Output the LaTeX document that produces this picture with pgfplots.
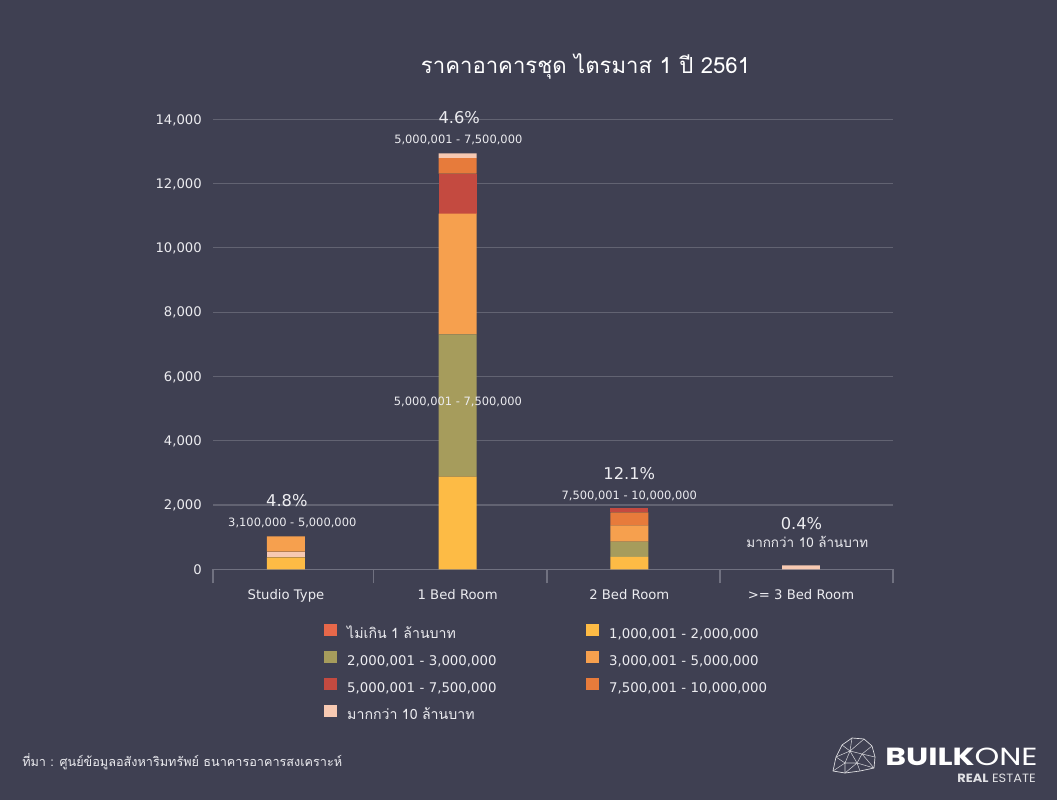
\documentclass[border=0pt]{standalone}
\usepackage{pgfplots}
\pgfplotsset{compat=1.18}
\usepackage{fontspec}
\setmainfont{DejaVu Sans}
\newfontfamily\thaifont[Script=Thai]{Loma}
\newfontfamily\logofont{Poppins}

\definecolor{bg}{RGB}{63,64,82}
\definecolor{gridc}{RGB}{98,99,114}
\definecolor{axisc}{RGB}{112,113,128}
\definecolor{txt}{RGB}{236,236,240}
\definecolor{cA}{RGB}{231,104,74}   % up to 1 MB
\definecolor{cB}{RGB}{253,187,69}   % 1,000,001 - 2,000,000
\definecolor{cC}{RGB}{166,156,92}   % 2,000,001 - 3,000,000
\definecolor{cD}{RGB}{246,160,78}   % 3,000,001 - 5,000,000
\definecolor{cE}{RGB}{196,74,64}    % 5,000,001 - 7,500,000
\definecolor{cF}{RGB}{231,123,59}   % 7,500,001 - 10,000,000
\definecolor{cG}{RGB}{247,201,178}  % over 10 MB

\begin{document}
\begin{tikzpicture}[
  lab/.style={anchor=base, text=txt, inner sep=0pt, font=\fontsize{8.6}{10}\selectfont},
  pct/.style={anchor=base, text=txt, inner sep=0pt, font=\fontsize{12.2}{14}\selectfont},
]
\fill[bg] (0,0) rectangle (792.75pt,600pt);

\begin{axis}[
  at={(159.75pt,173.025pt)}, anchor=south west,
  scale only axis, width=510pt, height=337.5pt,
  xmin=-0.425, xmax=3.536, ymin=0, ymax=14000,
  ybar stacked, bar width=0.221,
  clip=false,
  axis x line*=bottom, axis y line*=left,
  y axis line style={draw=none},
  x axis line style={draw=axisc, line width=0.9pt},
  ymajorgrids, grid style={draw=gridc, line width=0.9pt},
  ytick={0,2000,...,14000},
  scaled y ticks=false,
  /pgf/number format/1000 sep={,},
  /pgf/number format/assume math mode=true,
  xtick={0,1,2,3},
  xticklabels={Studio Type,1 Bed Room,2 Bed Room,>= 3 Bed Room},
  minor xtick={-0.425,0.511,1.52,2.528,3.536},
  major tick length=0pt, minor tick length=10.5pt, tick align=outside,
  minor tick style={draw=axisc, line width=0.9pt},
  ticklabel style={font=\fontsize{9.9}{12}\selectfont, text=txt},
  yticklabel style={anchor=base east, inner sep=0pt, xshift=-8.25pt, yshift=-3.6pt},
  xticklabel style={anchor=base, inner sep=0pt, yshift=-22.3pt},
  sq/.style={legend image code/.code={\fill[#1] (0pt,-0.6pt) rectangle (8.5pt,7.9pt);}},
  legend columns=2,
  legend cell align=left,
  legend style={at={(0.1637,-0.1209)}, anchor=north west,
    draw=none, fill=none, inner sep=0pt, outer sep=0pt,
    font=\fontsize{10}{12}\selectfont, text=txt,
    row sep=6.2pt,
    nodes={inner sep=0pt, text width=179.25pt, text height=9pt, text depth=3pt},
    /tikz/every odd column/.append style={column sep=8.3pt}},
]
% segments listed from the bottom of each column upwards
\addplot[forget plot, fill=cB, draw=none] coordinates {(0,373) (1,2881) (2,383) (3,0)};
\addplot[forget plot, fill=cG, draw=none] coordinates {(0,174) (1,0) (2,0) (3,0)};
\addplot[forget plot, fill=cC, draw=none] coordinates {(0,0) (1,4430) (2,479) (3,0)};
\addplot[forget plot, fill=cD, draw=none] coordinates {(0,479) (1,3752) (2,507) (3,0)};
\addplot[forget plot, fill=cE, draw=none] coordinates {(0,0) (1,1244) (2,0) (3,0)};
\addplot[forget plot, fill=cF, draw=none] coordinates {(0,0) (1,488) (2,404) (3,0)};
\addplot[forget plot, fill=cE, draw=none] coordinates {(0,0) (1,0) (2,146) (3,0)};
\addplot[forget plot, fill=cG, draw=none] coordinates {(0,0) (1,146) (2,0) (3,125)};

\addlegendimage{sq=cA}\addlegendentry{\thaifont\fontsize{10.6}{12}\selectfont ไม่เกิน 1 ล้านบาท}
\addlegendimage{sq=cB}\addlegendentry{1,000,001 - 2,000,000}
\addlegendimage{sq=cC}\addlegendentry{2,000,001 - 3,000,000}
\addlegendimage{sq=cD}\addlegendentry{3,000,001 - 5,000,000}
\addlegendimage{sq=cE}\addlegendentry{5,000,001 - 7,500,000}
\addlegendimage{sq=cF}\addlegendentry{7,500,001 - 10,000,000}
\addlegendimage{sq=cG}\addlegendentry{\thaifont\fontsize{10.6}{12}\selectfont มากกว่า 10 ล้านบาท}

% anchor points for the annotations (set after the axis so they sit on top)
\coordinate (p0) at (axis cs:0.005,1969);
\coordinate (r0) at (axis cs:0.037,1347);
\coordinate (p1) at (axis cs:1.009,13875);
\coordinate (r1) at (axis cs:1.004,13253);
\coordinate (m1) at (axis cs:1.002,5111);
\coordinate (p2) at (axis cs:2.0,2800);
\coordinate (r2) at (axis cs:2.0,2178);
\coordinate (p3) at (axis cs:3.003,1244);
\coordinate (r3) at (axis cs:3.037,672);
\end{axis}

\node[pct] at (p0) {4.8\%};
\node[lab] at (r0) {3,100,000 - 5,000,000};
\node[pct] at (p1) {4.6\%};
\node[lab] at (r1) {5,000,001 - 7,500,000};
\node[lab] at (m1) {5,000,001 - 7,500,000};
\node[pct] at (p2) {12.1\%};
\node[lab] at (r2) {7,500,001 - 10,000,000};
\node[pct] at (p3) {0.4\%};
\node[lab, font=\thaifont\fontsize{10.1}{12}\selectfont] at (r3) {มากกว่า 10 ล้านบาท};

\begin{scope}[x=0.75pt, y=-0.75pt, yshift=600pt]
  % title
  \node[anchor=base, text=white, inner sep=0pt, font=\thaifont\fontsize{16.6}{20}\selectfont]
    at (585.5,73.3) {ราคาอาคารชุด ไตรมาส 1 ปี 2561};
  % source
  \node[anchor=base west, text=txt, inner sep=0pt, font=\thaifont\fontsize{9.5}{12}\selectfont]
    at (22,767) {ที่มา : ศูนย์ข้อมูลอสังหาริมทรัพย์ ธนาคารอาคารสงเคราะห์};
  % logo
  \draw[white!85!bg, line width=0.5pt, line join=round]
    (833,771) -- (836,757) -- (842,745) -- (852,738) -- (864,739) -- (872,746)
    -- (875,757) -- (874,768) -- (860,771) -- (845,773) -- cycle;
  \draw[white!75!bg, line width=0.4pt]
    (842,745) -- (850,751) -- (852,738) (850,751) -- (864,739)
    (850,751) -- (862,754) -- (872,746) (862,754) -- (875,757)
    (836,757) -- (850,751) -- (845,763) -- (836,757)
    (850,751) -- (857,763) -- (862,754) (857,763) -- (874,768)
    (845,763) -- (857,763) -- (860,771) (845,763) -- (845,773) (845,763) -- (833,771)
    (857,763) -- (845,773) (862,754) -- (874,768);
  \node[anchor=base west, text=white, inner sep=0pt, xscale=1.27, font=\logofont\fontsize{18.6}{20}\selectfont]
    at (885,765.7) {\textbf{BUILK}ONE};
  \node[anchor=base east, text=white!85!bg, inner sep=0pt, xscale=1.08, font=\logofont\fontsize{9}{10}\selectfont]
    at (1036,782.3) {\textbf{REAL} ESTATE};
\end{scope}

\pgfresetboundingbox
\useasboundingbox (0,0) rectangle (792.75pt,600pt);
\end{tikzpicture}
\end{document}
